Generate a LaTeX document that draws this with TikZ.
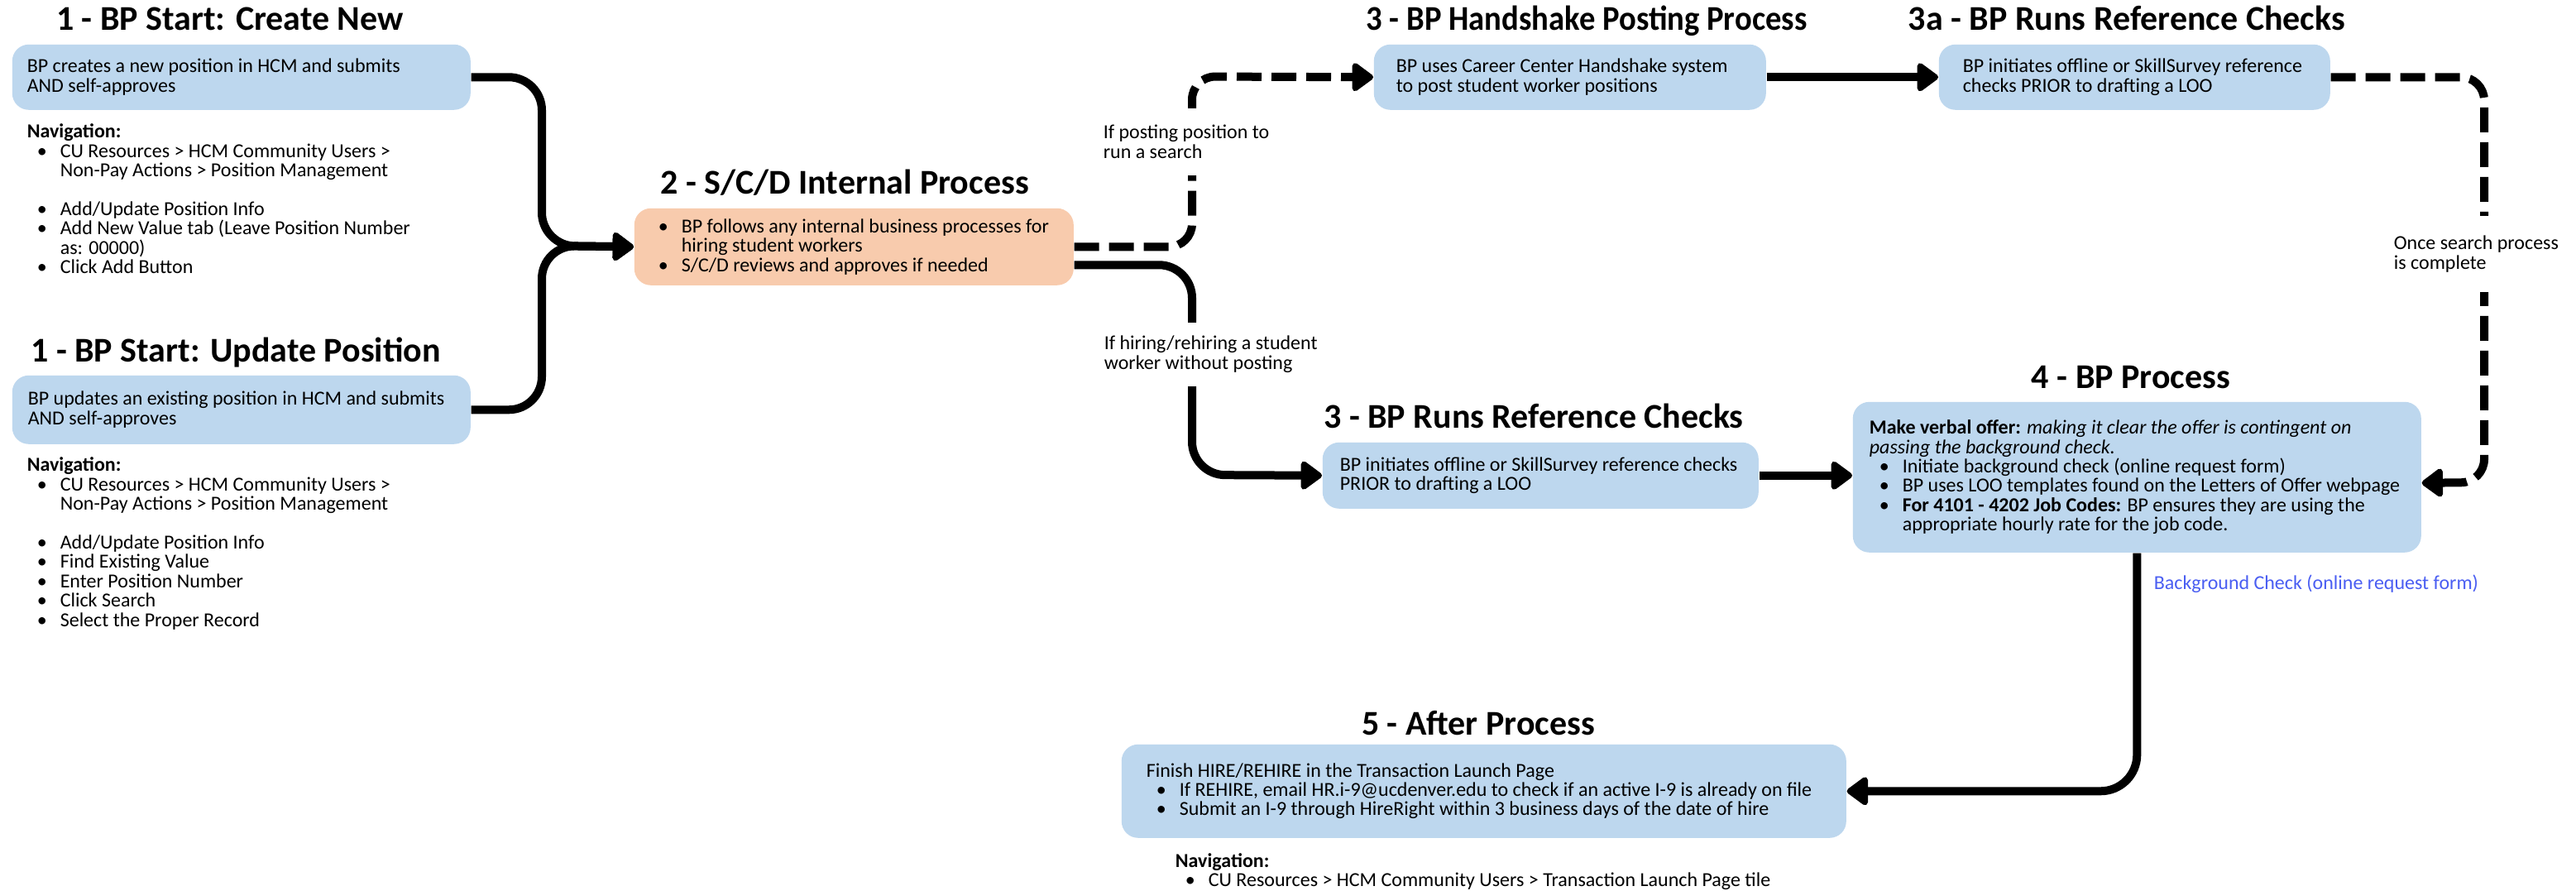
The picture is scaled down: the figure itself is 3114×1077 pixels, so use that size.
\documentclass[tikz,border=0pt]{standalone}
\usepackage{fontspec}
\setmainfont{Carlito}
\usetikzlibrary{arrows.meta,calc}
\definecolor{bfill}{HTML}{BDD7EE}
\definecolor{ofill}{HTML}{F8CBAD}
\definecolor{linkc}{RGB}{74,94,242}
\newcommand\bu{\hspace*{3pt}\makebox[7pt][l]{\textbullet}}
\newcommand\ind{\hspace*{10pt}}
\newcommand\ls[1]{\vtop{\baselineskip=5.85pt\lineskiplimit=-10pt\lineskip=0pt #1}}
\newcommand\bodyfont{\fontsize{6pt}{5.85pt}\selectfont}
\tikzset{
  pbox/.style={rounded corners=5pt, inner sep=0pt, anchor=north west},
  bluebox/.style={pbox, fill=bfill},
  orbox/.style={pbox, fill=ofill},
  ttl/.style={font=\fontsize{10.5pt}{12pt}\selectfont\bfseries, anchor=base, inner sep=0pt},
  txt/.style={anchor=base west, inner sep=0pt, font=\bodyfont},
  intxt/.style={anchor=west, inner sep=0pt, font=\bodyfont},
  conn/.style={line width=2.5pt, -{Triangle[length=7pt,width=9.75pt,round]}, rounded corners=10pt},
  dconn/.style={conn, rounded corners=7pt, dash pattern=on 7.5pt off 3pt},
  lab/.style={txt, fill=white, inner xsep=1pt},
}
\begin{document}
\begin{tikzpicture}[x=0.25pt,y=-0.25pt]
\useasboundingbox (0,0) rectangle (3114,1077);
\fill[white] (0,0) rectangle (3114,1077);

% titles
\node[ttl] (t1) at (278,37) {1 - BP Start: Create New};
\node[ttl] (t1b) at (285,438) {1 - BP Start: Update Position};
\node[ttl] (t2) at (1021,235) {2 - S/C/D Internal Process};
\node[ttl] (t3h) at (1918,37) {\scalebox{0.92}[1]{3 - BP Handshake Posting Process}};
\node[ttl] (t3a) at (2571,37) {3a - BP Runs Reference Checks};
\node[ttl] (t3r) at (1854,518) {3 - BP Runs Reference Checks};
\node[ttl] (t4) at (2576,470) {4 - BP Process};
\node[ttl] (t5) at (1787,889) {5 - After Process};

% boxes
\node[bluebox, minimum width=138.5pt, minimum height=19.75pt] (b1) at (14,53) {};
\node[intxt] (b1t) at ([xshift=4.5pt]b1.west) {\ls{\hbox{BP creates a new position in HCM and submits}\hbox{AND self-approves}}};

\node[bluebox, minimum width=138.5pt, minimum height=20.75pt] (b2) at (14,453) {};
\node[intxt] (b2t) at ([xshift=4.75pt]b2.west) {\ls{\hbox{BP updates an existing position in HCM and submits}\hbox{AND self-approves}}};

\node[orbox, minimum width=132.75pt, minimum height=23.25pt] (org) at (766,251) {};
\node[intxt] (orgt) at ([xshift=4.25pt]org.west) {\ls{\hbox{\bu BP follows any internal business processes for}\hbox{\ind hiring student workers}\hbox{\bu S/C/D reviews and approves if needed}}};

\node[bluebox, minimum width=118.5pt, minimum height=19.75pt] (h3) at (1660,53) {};
\node[intxt] (h3t) at ([xshift=6.75pt]h3.west) {\ls{\hbox{BP uses Career Center Handshake system}\hbox{to post student worker positions}}};

\node[bluebox, minimum width=118.25pt, minimum height=19.75pt] (h3a) at (2343,53) {};
\node[intxt] (h3at) at ([xshift=7.25pt]h3a.west) {\ls{\hbox{BP initiates offline or SkillSurvey reference}\hbox{checks PRIOR to drafting a LOO}}};

\node[bluebox, minimum width=131.75pt, minimum height=20pt] (r3) at (1598,534) {};
\node[intxt] (r3t) at ([xshift=5.25pt]r3.west) {\ls{\hbox{BP initiates offline or SkillSurvey reference checks}\hbox{PRIOR to drafting a LOO}}};

\node[bluebox, minimum width=171.75pt, minimum height=45.5pt] (b4) at (2239,485) {};
\node[intxt] (b4t) at ([xshift=5pt]b4.west) {\ls{\hbox{\textbf{Make verbal offer:} \textit{making it clear the offer is contingent on}}\hbox{\textit{passing the background check.}}\hbox{\bu Initiate background check (online request form)}\hbox{\bu BP uses LOO templates found on the Letters of Offer webpage}\hbox{\bu \textbf{For 4101 - 4202 Job Codes:} BP ensures they are using the}\hbox{\ind appropriate hourly rate for the job code.}}};

\node[bluebox, minimum width=219pt, minimum height=28.25pt] (b5) at (1355,899) {};
\node[intxt] (b5t) at ([xshift=7.5pt]b5.west) {\ls{\hbox{Finish HIRE/REHIRE in the Transaction Launch Page}\hbox{\bu If REHIRE, email HR.i-9@ucdenver.edu to check if an active I-9 is already on file}\hbox{\bu Submit an I-9 through HireRight within 3 business days of the date of hire}}};

% navigation texts
\node[txt] (nav1) at (32,167) {\ls{\hbox{\textbf{Navigation:}}\hbox{\bu CU Resources > HCM Community Users >}\hbox{\ind Non-Pay Actions > Position Management}\hbox{}\hbox{\bu Add/Update Position Info}\hbox{\bu Add New Value tab (Leave Position Number}\hbox{\ind as: 00000)}\hbox{\bu Click Add Button}}};
\node[txt] (nav2) at (32,570) {\ls{\hbox{\textbf{Navigation:}}\hbox{\bu CU Resources > HCM Community Users >}\hbox{\ind Non-Pay Actions > Position Management}\hbox{}\hbox{\bu Add/Update Position Info}\hbox{\bu Find Existing Value}\hbox{\bu Enter Position Number}\hbox{\bu Click Search}\hbox{\bu Select the Proper Record}}};
\node[txt] (nav5) at (1420,1048) {\ls{\hbox{\textbf{Navigation:}}\hbox{\bu CU Resources > HCM Community Users > Transaction Launch Page tile}}};

% connectors
\draw[conn] (b1.east) -| (655,297) -- (org.west);
\draw[conn] (b2.east) -| (655,297) -- (org.west);
\draw[dconn] (org.east) -| (1441,92.5) -- (h3.west);
\draw[conn] ($(org.east)+(0,22)$) -| (1441,574) -- (r3.west);
\draw[conn] (h3.east) -- (h3a.west);
\draw[dconn] (h3a.east) -| (3003,583) -- ($(b4.east)+(0,7)$);
\draw[conn] (r3.east) -- (r3.east -| b4.west);
\draw[conn, rounded corners=11pt] (b4.south) |- (b5.east);

% connector labels
\node[lab, inner ysep=5pt] (lab1) at (1329,168) {\ls{\hbox{If posting position to}\hbox{run a search}}};
\node[lab, inner ysep=4pt] (lab2) at (1330,423) {\ls{\hbox{If hiring/rehiring a student}\hbox{worker without posting}}};
\node[lab, inner ysep=6pt] (lab3) at (2889,302) {\ls{\hbox{Once search process}\hbox{is complete}}};
\node[txt, text=linkc] (link) at (2603,713) {Background Check (online request form)};
\end{tikzpicture}
\end{document}
